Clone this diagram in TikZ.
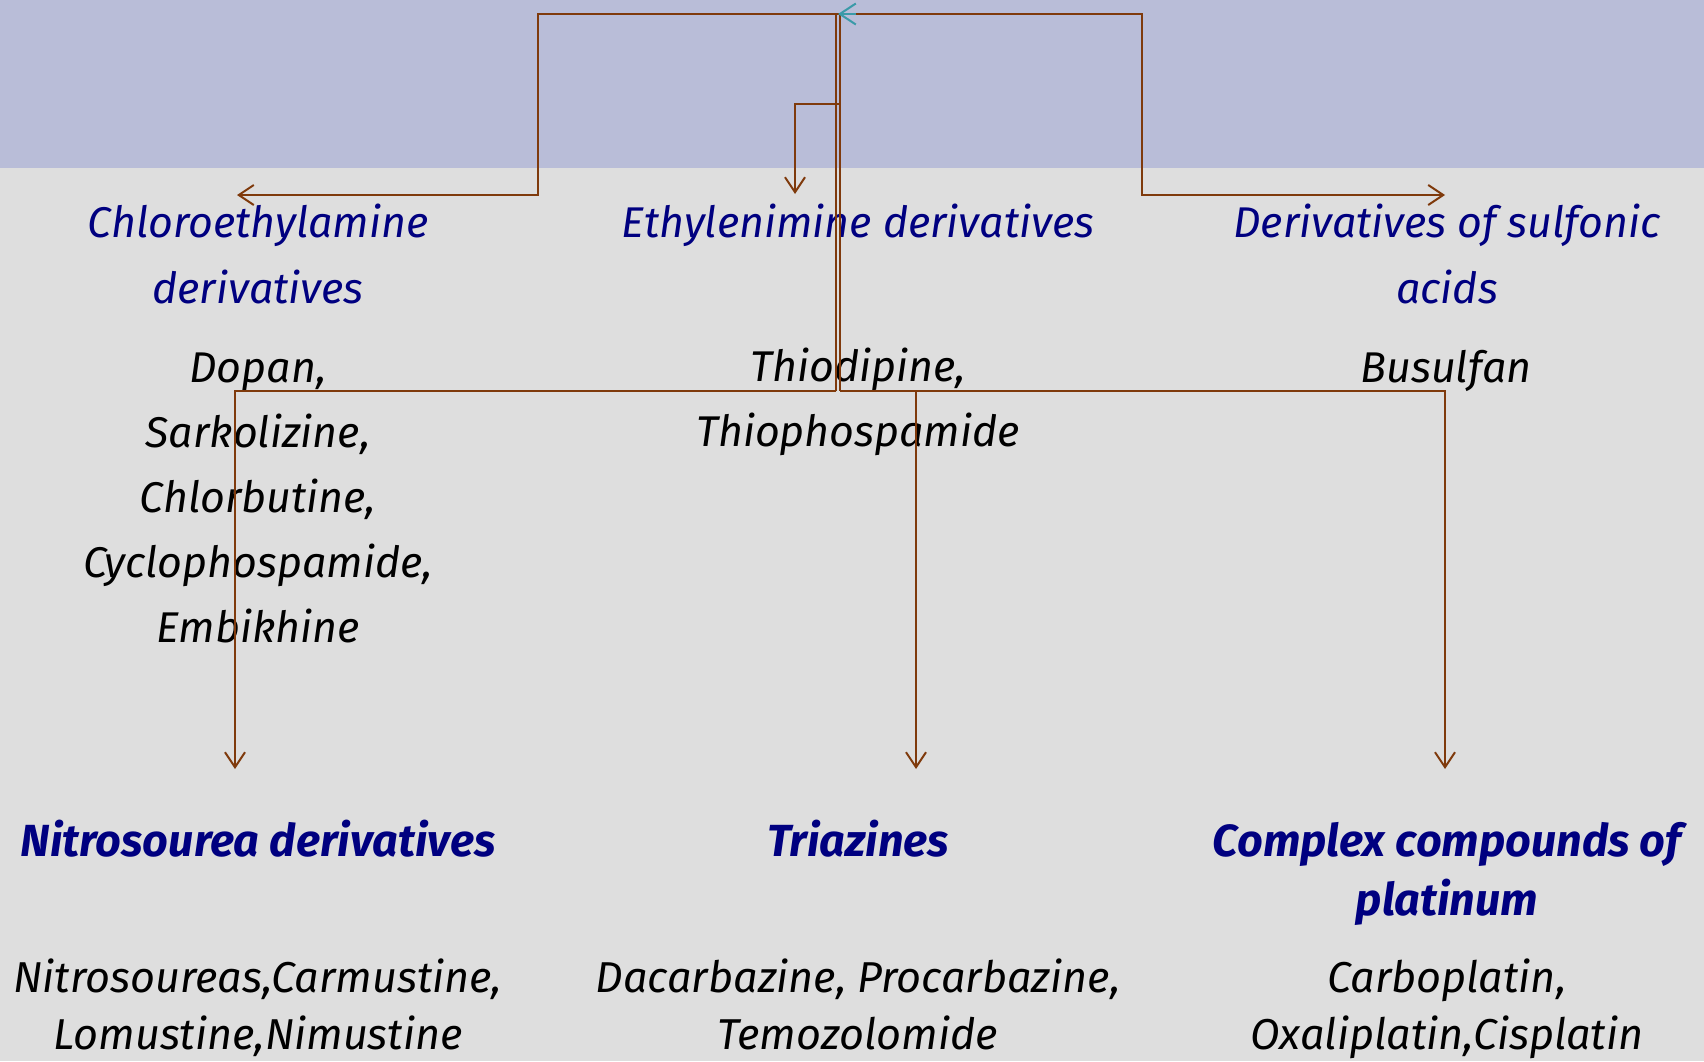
\documentclass[tikz,border=0pt]{standalone}
\usepackage{fontspec}
\setmainfont{Fira Sans}
\usetikzlibrary{arrows.meta}
\definecolor{bgtop}{HTML}{B9BDD8}
\definecolor{bgmain}{HTML}{DEDEDE}
\definecolor{navyt}{RGB}{0,0,128}
\definecolor{brn}{HTML}{7F3A0C}
\definecolor{tealtip}{HTML}{3A9AA8}
\tikzset{
  conn/.style={draw=brn, line width=1pt},
  arr/.style={conn, -{Straight Barb[length=7.5pt,width=10pt,line width=1pt]}},
  head/.style={text=navyt, align=center, anchor=base, inner sep=0pt,
    font=\fontsize{21.5}{33}\selectfont\itshape},
  items/.style={text=black, align=center, anchor=base, inner sep=0pt,
    font=\fontsize{21.5}{32.5}\selectfont\itshape},
  bhead/.style={text=navyt, align=center, anchor=base, inner sep=0pt,
    font=\fontsize{22.5}{29.5}\selectfont\bfseries\itshape},
  bitems/.style={text=black, align=center, anchor=base, inner sep=0pt,
    font=\fontsize{21.6}{28.5}\selectfont\itshape},
}
\begin{document}
\begin{tikzpicture}[x=0.5pt,y=-0.5pt]
\fill[bgmain] (0,0) rectangle (1704,1061);
\fill[bgtop] (0,0) rectangle (1704,168);
\useasboundingbox (0,0) rectangle (1704,1061);

% upper categories (anchor = baseline of last line)
\node[head] (h1) at (258,303) {Chloroethylamine\\derivatives};
\node[head] (h2) at (858,237) {Ethylenimine derivatives};
\node[head] (h3) at (1447,303) {Derivatives of sulfonic\\acids};
\node[items] (l1) at (258,642) {Dopan,\\Sarkolizine,\\Chlorbutine,\\Cyclophospamide,\\Embikhine};
\node[items] (l2) at (858,446) {Thiodipine,\\Thiophospamide};
\node[items] (l3) at (1446,382) {Busulfan};

% lower categories
\node[bhead] (b1) at (258,856) {Nitrosourea derivatives};
\node[bhead] (b2) at (858,856) {Triazines};
\node[bhead] (b3) at (1447,915) {Complex compounds of\\platinum};
\node[bitems] (bl1) at (258,1049) {Nitrosoureas,Carmustine,\\Lomustine,Nimustine};
\node[bitems] (bl2) at (858,1049) {Dacarbazine, Procarbazine,\\Temozolomide};
\node[bitems] (bl3) at (1447,1049) {Carboplatin,\\Oxaliplatin,Cisplatin};

% connector points
\coordinate (root) at (838,14);
\coordinate (rootL) at (836,14);
\coordinate (rootR) at (840,14);
\coordinate (busL) at (836,391);
\coordinate (busR) at (840,391);
\coordinate (mid) at (840,104);
\coordinate (h1in) at (237,195);
\coordinate (h2in) at (795,194);
\coordinate (h3in) at (1445,195);
\coordinate (b1in) at (235,769);
\coordinate (b2in) at (916,769);
\coordinate (b3in) at (1445,769);

% connectors
\draw[arr] (root) -- (538,14) |- (h1in);
\draw[arr] (root) -- (1142,14) |- (h3in);
\draw[arr] (mid) -| (h2in);
\draw[conn] (rootL) -- (busL);
\draw[conn] (rootR) -- (busR);
\draw[arr] (busL) -| (b1in);
\draw[arr] (busR) -| (b3in);
\draw[arr] (busR) -| (b2in);
\draw[draw=tealtip, line width=1pt, -{Straight Barb[length=8pt,width=10.5pt,line width=1pt]}] (856,14) -- (root);
\end{tikzpicture}
\end{document}
